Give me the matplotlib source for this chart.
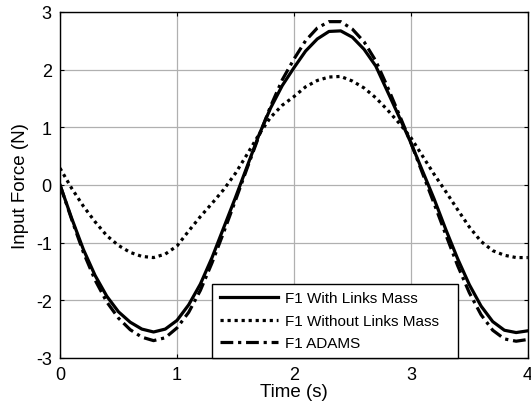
import matplotlib
matplotlib.use("Agg")
import matplotlib.pyplot as plt

plt.rcParams['font.family'] = ['Liberation Sans', 'DejaVu Sans']
plt.rcParams['axes.unicode_minus'] = False

t = [0.0, 0.1, 0.2, 0.3, 0.4, 0.5, 0.6, 0.7, 0.8, 0.9,
     1.0, 1.1, 1.2, 1.3, 1.4, 1.5, 1.6, 1.7, 1.8, 1.9,
     2.0, 2.1, 2.2, 2.3, 2.4, 2.5, 2.6, 2.7, 2.8, 2.9,
     3.0, 3.1, 3.2, 3.3, 3.4, 3.5, 3.6, 3.7, 3.8, 3.9, 4.0]

f1_with_mass = [0.00, -0.58, -1.12, -1.57, -1.93, -2.20, -2.38, -2.50, -2.55, -2.50,
                -2.35, -2.08, -1.72, -1.26, -0.74, -0.22, 0.32, 0.86, 1.33, 1.72,
                2.03, 2.32, 2.53, 2.66, 2.67, 2.56, 2.35, 2.06, 1.62, 1.18,
                0.73, 0.24, -0.25, -0.78, -1.28, -1.73, -2.10, -2.37, -2.52, -2.56, -2.53]

f1_without_mass = [0.29, -0.06, -0.37, -0.64, -0.88, -1.05, -1.17, -1.24, -1.26, -1.20,
                   -1.06, -0.80, -0.55, -0.32, -0.08, 0.20, 0.53, 0.87, 1.17, 1.38,
                   1.53, 1.70, 1.81, 1.87, 1.88, 1.80, 1.68, 1.51, 1.30, 1.07,
                   0.82, 0.50, 0.18, -0.12, -0.43, -0.73, -0.98, -1.14, -1.22, -1.26, -1.26]

f1_adams = [0.00, -0.60, -1.17, -1.65, -2.03, -2.31, -2.51, -2.64, -2.70, -2.65,
            -2.48, -2.21, -1.83, -1.35, -0.82, -0.27, 0.29, 0.84, 1.36, 1.82,
            2.18, 2.50, 2.72, 2.83, 2.83, 2.70, 2.48, 2.15, 1.70, 1.22,
            0.73, 0.20, -0.33, -0.87, -1.40, -1.87, -2.25, -2.52, -2.67, -2.71, -2.68]

labels = ['F1 With Links Mass', 'F1 Without Links Mass', 'F1 ADAMS']
x_ticks = [0, 1, 2, 3, 4]
y_ticks = [-3, -2, -1, 0, 1, 2, 3]

fig = plt.figure(figsize=(5.31, 4.14), dpi=100)
ax = fig.add_axes([0.113, 0.133, 0.881, 0.836])

ax.plot(t, f1_with_mass, color='black', lw=2.3, ls='-', label=labels[0])
ax.plot(t, f1_without_mass, color='black', lw=2.3, ls=(0, (1, 1.2)), label=labels[1])
ax.plot(t, f1_adams, color='black', lw=2.3, ls=(0, (4, 1.5, 1, 1.5)), label=labels[2])

ax.set_xlim(0, 4)
ax.set_ylim(-3, 3)
ax.set_xticks(x_ticks)
ax.set_yticks(y_ticks)
ax.grid(True, color='#b0b0b0', lw=0.9)
ax.set_axisbelow(True)
ax.tick_params(direction='in', top=True, right=True, labelsize=13, length=3, width=0.8, pad=6)
for s in ax.spines.values():
    s.set_linewidth(1.0)
ax.set_xlabel('Time (s)', fontsize=13.5, labelpad=0)
ax.set_ylabel('Input Force (N)', fontsize=13.5, labelpad=5)

leg = ax.legend(loc='lower left', bbox_to_anchor=(0.325, 0.0, 0.526, 0.22), mode='expand',
                fontsize=11, frameon=True, fancybox=False, edgecolor='black',
                borderaxespad=0, handlelength=3.8, labelspacing=0.55, borderpad=0.5,
                handletextpad=0.45)
leg.get_frame().set_linewidth(1.0)
leg.get_frame().set_alpha(1)

fig.savefig('out.png', dpi=100)
